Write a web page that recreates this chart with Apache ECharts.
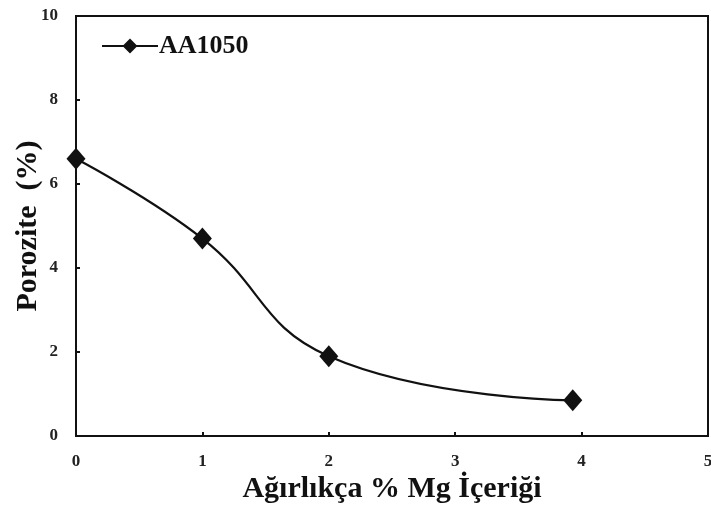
<!DOCTYPE html>
<html><head><meta charset="utf-8">
<script src="https://cdn.jsdelivr.net/npm/echarts@6/dist/echarts.min.js"></script>
<style>html,body{margin:0;padding:0;background:#fff}#c{width:711px;height:506px}</style>
</head><body><div id="c"></div>
<script>
const seriesName = 'AA1050';
const mgContent = [0, 1, 2, 3.93];
const porosity = [6.6, 4.7, 1.9, 0.85];
const xTicks = [0, 1, 2, 3, 4, 5];
const yTicks = [0, 2, 4, 6, 8, 10];
const xTitle = 'Ağırlıkça % Mg İçeriği';
const yTitle = 'Porozite  (%)';

const font = '"Liberation Serif", "Times New Roman", serif';
const chart = echarts.init(document.getElementById('c'));
chart.setOption({
  animation: false,
  backgroundColor: '#fff',
  grid: {left: 76, top: 16, right: 3, bottom: 70, show: true, borderColor: '#111', borderWidth: 2,
         containLabel: false, outerBoundsMode: 'none'},
  legend: {
    left: 96, top: 28, itemWidth: 56, itemHeight: 12, itemGap: 4,
    data: [{name: seriesName, icon: 'path://M0,6 L22,6 L28,0 L34,6 L56,6 L34,6 L28,12 L22,6 Z'}],
    textStyle: {fontFamily: font, fontWeight: 'bold', fontSize: 26, color: '#111', padding: [0,0,0,-4]},
    itemStyle: {color: '#111', borderColor: '#111', borderWidth: 2}
  },
  xAxis: {
    type: 'value', min: xTicks[0], max: xTicks[xTicks.length-1], interval: 1,
    name: xTitle, nameLocation: 'middle', nameGap: 38, nameMoveOverlap: false,
    nameTextStyle: {fontFamily: font, fontWeight: 'bold', fontSize: 30, color: '#111'},
    axisLine: {lineStyle: {color: '#111', width: 2}},
    axisTick: {inside: true, length: 4, lineStyle: {color: '#111', width: 2}},
    axisLabel: {fontFamily: font, fontWeight: 'bold', fontSize: 17, color: '#222', margin: 17},
    splitLine: {show: false}
  },
  yAxis: {
    type: 'value', min: yTicks[0], max: yTicks[yTicks.length-1], interval: 2,
    name: yTitle, nameLocation: 'middle', nameGap: 33, nameMoveOverlap: false,
    nameTextStyle: {fontFamily: font, fontWeight: 'bold', fontSize: 30, color: '#111'},
    axisLine: {lineStyle: {color: '#111', width: 2}},
    axisTick: {inside: true, length: 4, lineStyle: {color: '#111', width: 2}},
    axisLabel: {fontFamily: font, fontWeight: 'bold', fontSize: 17, color: '#222', margin: 18},
    splitLine: {show: false}
  },
  series: [{
    name: seriesName, type: 'line', smooth: 0.45,
    data: mgContent.map((x, i) => [x, porosity[i]]),
    symbol: 'diamond', symbolSize: [19, 22],
    lineStyle: {color: '#111', width: 2.2},
    itemStyle: {color: '#111'}
  }]
});
</script></body></html>
